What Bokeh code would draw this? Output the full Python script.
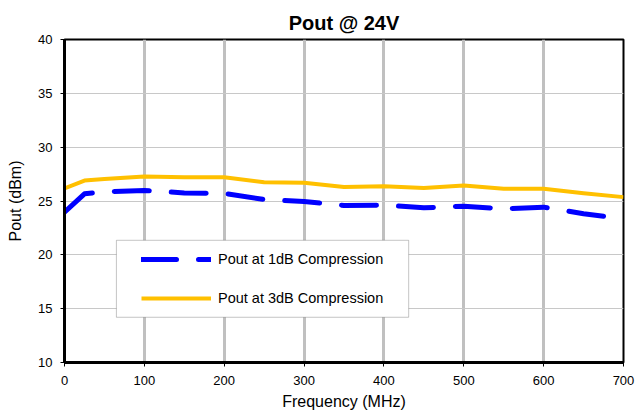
from bokeh.plotting import figure
from bokeh.models import Legend, LegendItem, BoxAnnotation, FixedTicker, Range1d
from bokeh.embed import file_html
from bokeh.resources import INLINE

freq = [0, 25, 50, 100, 150, 200, 250, 300, 350, 400, 450, 500, 550, 600, 650, 700]
pout_1db = [23.97, 25.67, 25.85, 25.98, 25.75, 25.7, 25.14, 24.95, 24.59, 24.62, 24.37, 24.52, 24.28, 24.43, 23.82, 23.35]
pout_3db = [26.17, 26.9, 27.05, 27.28, 27.2, 27.2, 26.75, 26.7, 26.3, 26.38, 26.2, 26.45, 26.13, 26.13, 25.73, 25.36]
x_ticks = [0, 100, 200, 300, 400, 500, 600, 700]
y_ticks = [10, 15, 20, 25, 30, 35, 40]
labels = ["Pout at 1dB Compression", "Pout at 3dB Compression"]

FONT = "Liberation Sans"

p = figure(width=636, height=413, output_backend="svg", toolbar_location=None,
           x_range=Range1d(0, 700), y_range=Range1d(10, 40),
           min_border_left=64, min_border_right=13, min_border_top=39, min_border_bottom=51,
           title="Pout @ 24V")
p.title.align = "center"
p.title.text_font = FONT
p.title.text_font_size = "20px"
p.title.text_font_style = "bold"
p.title.text_color = "#000000"
p.title.standoff = 12

p.outline_line_color = "#000000"
p.outline_line_width = 2

for ax, ticks in ((p.xaxis, x_ticks), (p.yaxis, y_ticks)):
    ax.ticker = FixedTicker(ticks=ticks)
    ax.axis_line_width = 3
    ax.axis_line_color = "#000000"
    ax.major_tick_line_color = "#000000"
    ax.major_tick_line_width = 1
    ax.major_tick_out = 4
    ax.major_tick_in = 0
    ax.minor_tick_line_color = None
    ax.major_label_text_font = FONT
    ax.major_label_text_font_size = "13px"
    ax.major_label_text_color = "#000000"
    ax.axis_label_text_font = FONT
    ax.axis_label_text_font_size = "16px"
    ax.axis_label_text_font_style = "normal"
    ax.axis_label_text_color = "#000000"

p.xaxis.axis_label = "Frequency (MHz)"
p.yaxis.axis_label = "Pout (dBm)"
p.xaxis.major_label_standoff = 9
p.yaxis.major_label_standoff = 8
p.xaxis.axis_label_standoff = 5
p.yaxis.axis_label_standoff = 11

p.xgrid.grid_line_color = "#C0C0C0"
p.xgrid.grid_line_width = 3
p.ygrid.grid_line_color = "#C8C8C8"
p.ygrid.grid_line_width = 1

r1 = p.line(freq, pout_1db, line_color="#0000FF", line_width=5,
            line_dash="35 22", line_cap="round", line_join="round")
r3 = p.line(freq, pout_3db, line_color="#FFC000", line_width=4,
            line_join="round")

box = BoxAnnotation(left=65, right=431, bottom=14.2, top=21.35,
                    fill_color="#FFFFFF", fill_alpha=1.0,
                    line_color="#404040", line_width=1, level="overlay")
p.add_layout(box)

legend = Legend(items=[LegendItem(label=labels[0], renderers=[r1]),
                       LegendItem(label=labels[1], renderers=[r3])],
                location=(77, 54), padding=0, margin=0, spacing=19,
                glyph_width=70, glyph_height=20, label_standoff=7,
                label_text_font=FONT, label_text_font_size="14.5px",
                label_text_color="#000000",
                border_line_color=None, background_fill_alpha=0)
p.add_layout(legend)

open("out.html", "w").write(file_html(p, INLINE))
